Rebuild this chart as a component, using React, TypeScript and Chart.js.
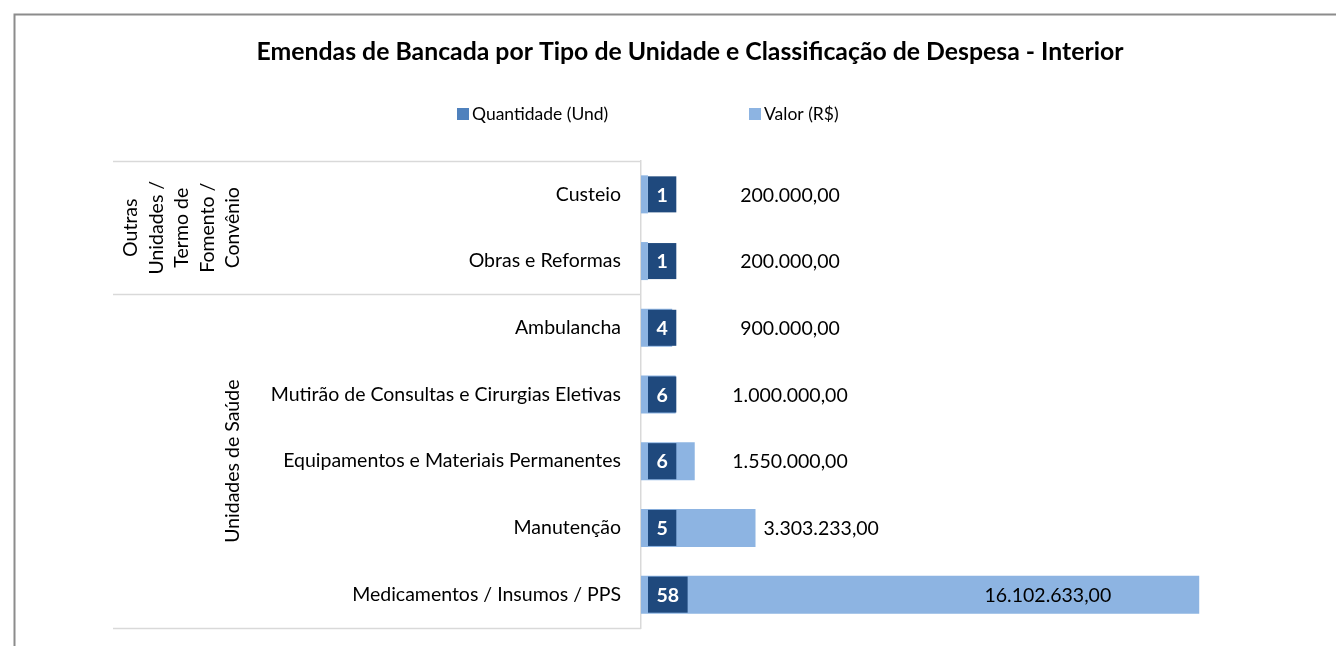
import { useEffect, useRef } from "react";
import { Chart, registerables } from "chart.js";
Chart.register(...registerables);

const titleText = "Emendas de Bancada por Tipo de Unidade e Classificação de Despesa - Interior";
const categories = [
  "Custeio",
  "Obras e Reformas",
  "Ambulancha",
  "Mutirão de Consultas e Cirurgias Eletivas",
  "Equipamentos e Materiais Permanentes",
  "Manutenção",
  "Medicamentos / Insumos / PPS",
];
const groupLabels = [["Outras", "Unidades /", "Termo de", "Fomento /", "Convênio"], ["Unidades de Saúde"]];
const groupSizes = [2, 5];
const seriesNames = ["Quantidade (Und)", "Valor (R$)"];
const quantidade = [1, 1, 4, 6, 6, 5, 58];
const valor = [200000, 200000, 900000, 1000000, 1550000, 3303233, 16102633];
const xMax = 18000000;

const FONT = "Lato, 'Open Sans', sans-serif";
const DARK = "#1F497D";
const MID = "#4F81BD";
const LIGHT = "#8DB4E2";
const SEP = "#D9D9D9";

function fmtBR(v: number) {
  const [i, d] = v.toFixed(2).split(".");
  return i.replace(/\B(?=(\d{3})+(?!\d))/g, ".") + "," + d;
}

const decorPlugin = {
  id: "decor",
  beforeDraw(chart: any) {
    const { ctx, width, height } = chart;
    ctx.save();
    ctx.fillStyle = "#fff";
    ctx.fillRect(0, 0, width, height);
    ctx.strokeStyle = "#8C8C8C";
    ctx.lineWidth = 2;
    ctx.beginPath();
    ctx.moveTo(14.5, height + 2);
    ctx.lineTo(14.5, 14.5);
    ctx.lineTo(width + 2, 14.5);
    ctx.stroke();
    ctx.restore();
  },
  afterDatasetsDraw(chart: any) {
    const { ctx, chartArea } = chart;
    const y = chart.scales.y;
    const x = chart.scales.x;
    const leftEdge = chartArea.left - 528;
    ctx.save();
    // separators
    ctx.strokeStyle = SEP;
    ctx.lineWidth = 1.5;
    const bounds: number[] = [chartArea.top];
    let idx = 0;
    groupSizes.forEach((n, gi) => {
      idx += n;
      if (gi < groupSizes.length - 1) {
        bounds.push((y.getPixelForValue(idx - 1) + y.getPixelForValue(idx)) / 2);
      }
    });
    bounds.push(chartArea.bottom);
    bounds.forEach((b) => {
      ctx.beginPath();
      ctx.moveTo(leftEdge, Math.round(b) + 0.5);
      ctx.lineTo(chartArea.left, Math.round(b) + 0.5);
      ctx.stroke();
    });
    // group labels (rotated)
    ctx.fillStyle = "#000";
    ctx.font = `19.5px ${FONT}`;
    ctx.textAlign = "center";
    ctx.textBaseline = "middle";
    groupLabels.forEach((lines, gi) => {
      const cy = (bounds[gi] + bounds[gi + 1]) / 2;
      const lastX = leftEdge + 120;
      lines.forEach((ln, li) => {
        const cx = lastX - (lines.length - 1 - li) * 25.5;
        ctx.save();
        ctx.translate(cx, cy);
        ctx.rotate(-Math.PI / 2);
        ctx.fillText(ln, 0, 0);
        ctx.restore();
      });
    });
    // bar labels
    const metaV = chart.getDatasetMeta(1);
    const metaQ = chart.getDatasetMeta(0);
    const x0 = x.getPixelForValue(0);
    const maxV = Math.max(...valor);
    metaV.data.forEach((bar: any, i: number) => {
      const cy = bar.y;
      const h = bar.height;
      // quantidade box
      const qEl = metaQ.data[i];
      const qText = String(quantidade[i]);
      ctx.font = `bold 19.5px ${FONT}`;
      const tw = ctx.measureText(qText).width;
      const bw = tw + 17;
      const bx = Math.max(qEl.x, x0) + 7;
      ctx.fillStyle = DARK;
      ctx.fillRect(bx, cy - h / 2 + 1, bw, h - 2);
      ctx.fillStyle = "#fff";
      ctx.textAlign = "center";
      ctx.textBaseline = "middle";
      ctx.fillText(qText, bx + bw / 2, cy + 1);
      // valor label
      const vText = fmtBR(valor[i]);
      ctx.font = `19.5px ${FONT}`;
      ctx.fillStyle = "#000";
      const vw = ctx.measureText(vText).width;
      if (valor[i] > maxV / 2) {
        ctx.textAlign = "right";
        ctx.fillText(vText, bar.x - 88, cy + 1);
      } else {
        const c = Math.max(bar.x + 8 + vw / 2, x0 + 149);
        ctx.textAlign = "center";
        ctx.fillText(vText, c, cy + 1);
      }
    });
    ctx.restore();
  },
  afterDraw(chart: any) {
    const { ctx } = chart;
    ctx.save();
    // title
    ctx.fillStyle = "#000";
    ctx.font = `bold 24.8px ${FONT}`;
    ctx.textAlign = "center";
    ctx.textBaseline = "middle";
    ctx.fillText(titleText, 690, 52);
    // legend
    ctx.font = `17.5px ${FONT}`;
    ctx.textAlign = "left";
    const colors = [MID, LIGHT];
    const starts = [457, 749];
    seriesNames.forEach((name, i) => {
      ctx.fillStyle = colors[i];
      ctx.fillRect(starts[i], 108, 12, 12);
      ctx.fillStyle = "#000";
      ctx.fillText(name, starts[i] + 15, 114);
    });
    ctx.restore();
  },
};

export default function App() {
  const ref = useRef<HTMLCanvasElement | null>(null);
  useEffect(() => {
    document.body.style.margin = "0";
    const chart = new Chart(ref.current as HTMLCanvasElement, {
      type: "bar",
      data: {
        labels: categories,
        datasets: [
          {
            label: seriesNames[0],
            data: quantidade,
            backgroundColor: MID,
            grouped: false,
            categoryPercentage: 1,
            barPercentage: 0.57,
            borderWidth: 0,
          } as any,
          {
            label: seriesNames[1],
            data: valor,
            backgroundColor: LIGHT,
            grouped: false,
            categoryPercentage: 1,
            barPercentage: 0.57,
            borderWidth: 0,
          } as any,
        ],
      },
      options: {
        indexAxis: "y",
        responsive: false,
        animation: false,
        layout: { padding: { top: 161, bottom: 18, right: 71, left: 0 } },
        plugins: { legend: { display: false }, title: { display: false }, tooltip: { enabled: false } },
        scales: {
          x: { display: false, min: 0, max: xMax },
          y: {
            grid: { display: false, drawTicks: false },
            border: { display: true, color: SEP, width: 1.5 },
            ticks: { color: "#000", font: { family: FONT, size: 19.5 }, padding: 20 },
            afterFit: (scale: any) => {
              scale.width = 641;
              scale.paddingTop = 0;
              scale.paddingBottom = 0;
            },
          },
        },
      },
      plugins: [decorPlugin],
    });
    return () => chart.destroy();
  }, []);
  return (
    <div style={{ position: "fixed", left: 0, top: 0, width: 1336, height: 646, overflow: "hidden", background: "#fff" }}>
      <canvas ref={ref} width={1336} height={646} style={{ display: "block" }} />
    </div>
  );
}
